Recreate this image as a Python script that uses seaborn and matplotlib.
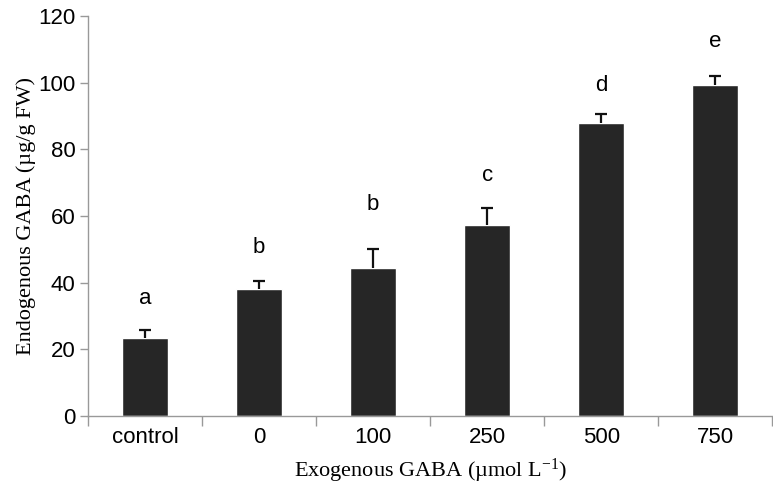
import numpy as np
import matplotlib
matplotlib.use("Agg")
import matplotlib.pyplot as plt
import seaborn as sns

# values
doses = ["control", "0", "100", "250", "500", "750"]
gaba_mean = [23.3, 38.1, 44.4, 57.4, 88.0, 99.4]
gaba_err = [2.5, 2.4, 5.7, 5.0, 2.6, 2.6]
letters = ["a", "b", "b", "c", "d", "e"]
letter_y = [35.1, 50.4, 63.3, 72.3, 99.3, 112.5]

sns.set_style("white")
plt.rcParams["font.family"] = ["Liberation Sans", "DejaVu Sans"]
plt.rcParams["mathtext.fontset"] = "custom"
plt.rcParams["mathtext.rm"] = "Liberation Serif"
plt.rcParams["mathtext.it"] = "Liberation Serif:italic"
plt.rcParams["text.color"] = "black"
plt.rcParams["axes.labelcolor"] = "black"
plt.rcParams["xtick.labelcolor"] = "black"
plt.rcParams["ytick.labelcolor"] = "black"

fig, ax = plt.subplots(figsize=(7.73, 4.87), dpi=100)
fig.subplots_adjust(left=0.114, right=0.999, bottom=0.146, top=0.967)

sns.barplot(x=doses, y=gaba_mean, color="#262626", saturation=1,
            width=0.4, errorbar=None, ax=ax)
xpos = np.arange(len(doses))
_, caps, _ = ax.errorbar(xpos, gaba_mean,
                         yerr=[np.zeros(len(doses)), gaba_err],
                         fmt="none", ecolor="#111111", elinewidth=1.6,
                         capsize=4, capthick=1.6)
caps[0].set_visible(False)  # only the upper whisker

for x, txt, y in zip(xpos, letters, letter_y):
    ax.text(x, y, txt, ha="center", va="center", fontsize=16)

ax.set_xlim(-0.5, len(doses) - 0.5)
ax.set_ylim(0, 120)
ax.set_yticks(range(0, 121, 20))

# ticks between categories, like a spreadsheet chart
ax.set_xticks(xpos)
ax.tick_params(axis="x", which="major", length=0, labelsize=16, pad=8)
ax.set_xticks(np.arange(-0.5, len(doses), 1.0), minor=True)
ax.tick_params(axis="x", which="minor", length=7, color="#999999",
               direction="out", width=1, bottom=True)
ax.tick_params(axis="y", length=6, color="#999999", direction="out",
               width=1, labelsize=16, pad=3, left=True)

sns.despine(ax=ax)
for side in ["left", "bottom"]:
    ax.spines[side].set_color("#999999")
    ax.spines[side].set_linewidth(1)

ax.set_xlabel(r"Exogenous GABA (µmol L$^{-1}$)", family="Liberation Serif",
              fontsize=16, labelpad=6)
ax.set_ylabel("Endogenous GABA (µg/g FW)", family="Liberation Serif",
              fontsize=16, labelpad=2)

fig.savefig("out.png", dpi=100)
